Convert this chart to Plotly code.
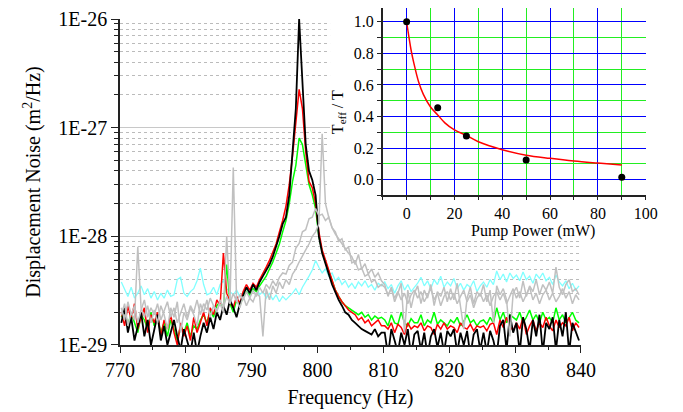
import plotly.graph_objects as go

# ---------------- data (spectra in units of 1E-29 m^2/Hz) ----------------
UNIT = 1e-29
freq = [round(770.2 + 0.5 * k, 1) for k in range(140)]  # Hz

black = [1.6, 2.2, 1.3, 1.8, 1.1, 1.5, 2.0, 1.2, 1.7, 1.0,
         1.4, 1.9, 1.1, 1.5, 1.0, 1.3, 1.7, 1.2, 0.9, 1.4,
         1.1, 0.85, 1.3, 0.85, 1.2, 1.6, 1.3, 1.8, 1.4, 2.0,
         1.7, 2.3, 1.9, 2.6, 2.2, 1.8, 2.4, 2.9, 3.4, 3.0,
         3.6, 3.2, 3.8, 4.3, 4.8, 5.5, 6.5, 8.0, 10.0, 13,
         15, 24, 55, 150, 1000, 250, 70, 40, 33, 24,
         10, 7.0, 5.5, 4.5, 3.6, 3.0, 2.6, 2.3, 2.0, 1.9,
         1.7, 1.6, 1.5, 1.4, 1.35, 1.3, 1.25, 1.4, 1.2, 1.3,
         1.3, 0.8, 1.4, 1.1, 0.85, 1.3, 1.0, 1.4, 0.8, 1.25,
         1.35, 0.9, 1.3, 0.8, 1.2, 1.4, 0.95, 1.3, 0.85, 1.35,
         1.2, 1.4, 0.85, 1.3, 1.0, 1.35, 0.8, 1.25, 1.4, 0.9,
         1.3, 0.85, 1.35, 1.1, 0.8, 1.5, 1.7, 0.9, 1.9, 1.3,
         1.6, 0.85, 1.8, 1.4, 0.9, 1.7, 1.2, 1.9, 0.85, 1.6,
         1.4, 1.8, 0.9, 1.7, 1.2, 2.0, 0.85, 1.6, 1.3, 1.1]

red = [2.0, 1.5, 2.3, 1.7, 2.4, 1.4, 1.8, 2.2, 1.3, 1.9,
       1.6, 2.0, 1.2, 1.7, 1.4, 1.9, 1.3, 1.0, 1.6, 1.2,
       1.5, 1.1, 1.8, 1.3, 1.6, 2.0, 1.5, 2.2, 1.9, 2.6,
       2.3, 7.0, 3.0, 2.5, 2.2, 2.8, 2.4, 3.1, 3.6, 3.2,
       3.7, 3.4, 4.0, 4.5, 5.2, 6.0, 7.2, 8.5, 11, 14,
       19, 30, 55, 120, 225, 150, 60, 32, 28, 20,
       11, 7.5, 6.0, 4.8, 3.9, 3.2, 2.8, 2.5, 2.3, 2.1,
       2.0, 1.9, 1.7, 1.8, 1.6, 1.7, 1.5, 1.6, 1.7, 1.5,
       1.5, 1.4, 1.6, 1.3, 1.55, 1.45, 1.25, 1.6, 1.4, 1.5,
       1.45, 1.6, 1.35, 1.5, 1.45, 1.25, 1.55, 1.4, 1.6, 1.4,
       1.5, 1.45, 1.3, 1.6, 1.45, 1.4, 1.55, 1.35, 1.5, 1.45,
       1.5, 1.35, 1.55, 1.6, 1.25, 1.7, 1.45, 1.8, 1.5, 1.35,
       1.6, 1.4, 1.8, 1.25, 1.5, 1.7, 1.35, 1.6, 1.45, 1.8,
       1.5, 1.35, 1.7, 1.45, 1.6, 1.5, 1.8, 1.35, 1.6, 1.45]

green = [1.8, 2.1, 1.5, 2.0, 1.6, 1.3, 1.9, 1.7, 1.4, 2.0,
         1.5, 1.8, 1.3, 1.6, 1.2, 1.7, 1.4, 1.1, 1.5, 1.3,
         1.6, 1.2, 1.5, 1.4, 1.7, 1.9, 1.6, 2.1, 1.8, 2.3,
         2.5, 2.2, 5.5, 2.4, 2.0, 2.6, 2.3, 2.8, 3.1, 2.9,
         3.3, 3.1, 3.5, 3.9, 4.3, 5.0, 5.8, 7.0, 8.5, 11,
         14, 20, 32, 45, 80, 70, 45, 30, 24, 18,
         10, 7.2, 5.8, 4.7, 3.8, 3.2, 2.8, 2.5, 2.3, 2.2,
         2.1, 2.0, 1.9, 2.0, 1.8, 1.9, 1.7, 1.85, 1.75, 1.8,
         1.7, 1.5, 1.9, 1.6, 1.55, 2.0, 1.6, 1.5, 1.75, 1.6,
         1.6, 1.9, 1.5, 1.7, 1.6, 2.0, 1.55, 1.7, 1.6, 1.5,
         1.7, 1.6, 1.8, 1.5, 1.65, 1.9, 1.6, 1.7, 1.5, 1.65,
         1.7, 1.55, 1.8, 1.6, 2.2, 1.7, 2.0, 1.6, 1.9, 1.8,
         1.7, 2.0, 1.6, 1.8, 2.1, 1.7, 1.9, 1.6, 2.0, 1.7,
         1.8, 1.6, 2.2, 1.7, 1.9, 1.6, 1.8, 2.0, 1.7, 1.6]

cyan = [3.8, 3.2, 2.8, 3.4, 2.7, 3.0, 3.5, 2.9, 3.3, 2.7,
        3.1, 2.6, 3.0, 2.7, 3.2, 2.8, 2.9, 4.0, 4.2, 3.0,
        2.8, 3.1, 3.3, 3.9, 5.1, 3.6, 2.9, 3.0, 3.4, 2.9,
        3.6, 3.9, 3.3, 3.1, 2.9, 3.2, 2.8, 3.0, 3.3, 2.9,
        3.2, 3.4, 2.9, 3.1, 2.7, 3.0, 2.6, 2.9, 2.5, 2.8,
        2.6, 2.8, 3.0, 3.3, 2.9, 3.4, 3.8, 4.3, 4.9, 6.0,
        5.2, 4.6, 5.0, 4.3, 4.6, 3.9, 4.2, 3.6, 3.9, 3.4,
        3.7, 3.3, 3.8, 3.5, 3.9, 3.4, 3.6, 3.2, 3.7, 3.5,
        3.8, 3.3, 3.6, 3.0, 3.5, 3.9, 3.2, 3.6, 3.1, 3.4,
        3.7, 4.2, 3.5, 3.9, 3.3, 4.0, 3.6, 4.3, 3.4, 3.8,
        3.5, 4.1, 3.3, 3.7, 3.2, 3.6, 3.4, 3.9, 3.1, 3.5,
        3.8, 3.4, 4.0, 3.6, 4.8, 4.0, 4.5, 3.8, 4.6, 4.1,
        4.4, 3.9, 4.7, 4.0, 4.3, 3.7, 4.5, 4.1, 4.6, 3.9,
        4.2, 3.6, 4.4, 3.8, 3.5, 3.9, 3.3, 3.7, 3.2, 3.5]

gray_a = [2.2, 1.7, 2.5, 1.9, 2.3, 1.6, 2.1, 2.6, 1.8, 2.2,
          1.9, 2.4, 1.7, 2.1, 2.5, 1.8, 2.2, 1.6, 2.0, 2.4,
          1.8, 2.3, 2.0, 2.6, 1.9, 2.4, 2.1, 2.7, 2.3, 2.0,
          2.6, 2.2, 2.8, 2.4, 3.0, 2.5, 2.9, 2.6, 3.1, 2.7,
          3.2, 2.8, 3.4, 3.0, 3.6, 3.3, 3.9, 3.5, 4.2, 4.6,
          4.5, 5.4, 5.8, 7.8, 8.6, 11, 11.5, 14.5, 15, 18,
          15.5, 16, 14, 15, 12, 11, 9.0, 9.5, 7.5, 8.0,
          5.7, 5.9, 4.9, 5.1, 4.3, 4.5, 3.8, 4.0, 3.4, 3.6,
          3.4, 2.9, 3.3, 2.7, 3.1, 2.6, 3.0, 2.4, 2.9, 3.2,
          2.7, 3.1, 2.5, 2.9, 3.3, 2.6, 3.0, 2.3, 2.8, 3.1,
          2.6, 3.0, 2.4, 2.8, 3.2, 2.5, 2.9, 2.2, 2.7, 3.0,
          2.5, 2.9, 2.3, 2.8, 3.1, 2.6, 3.0, 2.4, 2.8, 3.3,
          2.7, 3.1, 2.5, 2.9, 3.4, 2.6, 3.0, 2.4, 2.9, 3.2,
          2.6, 3.0, 2.5, 2.8, 3.3, 2.7, 3.1, 2.4, 2.9, 2.6]

gray_b = [1.9, 2.4, 1.5, 2.0, 1.7, 8.0, 2.2, 1.8, 2.3, 1.6,
          2.1, 1.6, 2.3, 1.9, 1.4, 2.2, 1.8, 2.5, 1.3, 2.0,
          1.7, 2.2, 1.9, 1.5, 2.4, 2.0, 2.6, 1.8, 2.3, 2.1,
          2.4, 2.0, 10, 2.5, 43, 2.6, 2.2, 2.8, 2.3, 2.7,
          2.5, 3.0, 2.8, 1.2, 3.3, 2.6, 3.5, 3.0, 3.8, 3.3,
          4.0, 3.6, 4.5, 5.0, 5.8, 6.5, 7.5, 8.5, 10, 11,
          13, 88, 20, 15, 12, 10.5, 9.5, 8.5, 7.8, 7.0,
          6.5, 5.5, 6.8, 5.0, 5.6, 4.5, 5.0, 4.2, 4.6, 3.9,
          3.6, 2.8, 3.4, 2.5, 3.0, 3.7, 1.3, 3.2, 2.2, 3.0,
          3.5, 2.4, 3.2, 2.7, 3.6, 2.3, 3.1, 2.8, 3.4, 2.5,
          3.3, 2.6, 3.7, 2.2, 1.4, 2.7, 3.4, 2.4, 3.1, 2.8,
          3.6, 2.5, 3.2, 1.6, 3.5, 2.9, 3.3, 2.6, 1.2, 3.0,
          3.4, 2.7, 3.9, 2.8, 3.5, 3.1, 4.0, 2.9, 3.6, 3.2,
          3.8, 3.0, 5.2, 3.4, 2.9, 3.6, 4.0, 3.1, 3.3, 2.9]

# inset: effective temperature vs pump power
pump_pts = [0, 13, 25, 50, 90]
teff_pts = [1.0, 0.455, 0.276, 0.124, 0.016]
fit_p = [0, 1, 2, 3, 5, 7, 10, 13, 16, 20, 25, 30, 40, 50, 60, 70, 80, 90]
fit_t = [1.0, 0.9, 0.81, 0.74, 0.62, 0.54, 0.46, 0.41, 0.36, 0.315, 0.28,
         0.24, 0.19, 0.155, 0.135, 0.118, 0.105, 0.093]

y_major = [1e-29, 1e-28, 1e-27, 1e-26]
y_major_text = ["1E-29", "1E-28", "1E-27", "1E-26"]
x_ticks = [770, 780, 790, 800, 810, 820, 830, 840]
inset_x_ticks = [0, 20, 40, 60, 80, 100]

FONT = "Liberation Serif, Times New Roman, serif"
AX = "#222222"
GRID_BLUE = "#0000ff"
GRID_GREEN = "#22ee22"

fig = go.Figure()

series = [
    (cyan, "#80ffff", 1.3),
    (green, "#00ff00", 1.5),
    (red, "#ff0000", 1.5),
    (black, "#000000", 1.8),
    (gray_a, "#c0c0c0", 1.5),
    (gray_b, "#c0c0c0", 1.5),
]
for vals, col, w in series:
    fig.add_trace(go.Scatter(
        x=freq, y=[v * UNIT for v in vals], mode="lines",
        line=dict(color=col, width=w), xaxis="x", yaxis="y",
        showlegend=False, hoverinfo="skip"))

fig.add_trace(go.Scatter(
    x=fit_p, y=fit_t, mode="lines", line=dict(color="#ff0000", width=1.5, shape="spline"),
    xaxis="x2", yaxis="y2", showlegend=False))
fig.add_trace(go.Scatter(
    x=pump_pts, y=teff_pts, mode="markers", marker=dict(color="#000000", size=7),
    xaxis="x2", yaxis="y2", showlegend=False))

minor_vals = [m * 10.0 ** e for e in (-29, -28, -27) for m in range(2, 10)]

# page body has an 8 px margin, so the figure is 8 px smaller than the window
fig.update_layout(
    width=675, height=404,
    margin=dict(l=112, r=30, t=0, b=67),
    paper_bgcolor="white", plot_bgcolor="white",
    font=dict(family=FONT, color="#000000"),
    xaxis=dict(
        domain=[0, 0.8649], range=[770, 840], anchor="y", automargin=False,
        tickmode="array", tickvals=x_ticks,
        ticks="outside", ticklen=6, tickwidth=1.2, tickcolor=AX,
        minor=dict(dtick=5, tick0=770, ticks="outside", ticklen=3, tickcolor=AX, showgrid=False),
        showline=True, linecolor=AX, linewidth=1.5, showgrid=False, zeroline=False,
        tickfont=dict(size=20, family=FONT),
        title=dict(text="Frequency (Hz)", font=dict(size=20, family=FONT), standoff=10),
    ),
    yaxis=dict(
        domain=[0, 0.9673], type="log", range=[-29, -26], anchor="x", automargin=False,
        tickmode="array", tickvals=y_major, ticktext=y_major_text,
        ticks="outside", ticklen=7, tickwidth=1.2, tickcolor=AX,
        showgrid=True, gridcolor="#c8c8c8", gridwidth=1,
        minor=dict(tickmode="array", tickvals=minor_vals, ticks="outside", ticklen=4,
                   tickcolor=AX, showgrid=True, gridcolor="#bbbbbb", griddash="dot", gridwidth=1),
        showline=True, linecolor=AX, linewidth=1.5, zeroline=False,
        tickfont=dict(size=20, family=FONT),
        title=dict(text="Displacement Noise (m<sup>2</sup>/Hz)", font=dict(size=20, family=FONT), standoff=12),
    ),
    xaxis2=dict(
        domain=[0.4929, 0.9863], range=[-10, 100], anchor="y2", automargin=False,
        tickmode="array", tickvals=inset_x_ticks,
        ticks="outside", ticklen=3, tickcolor=AX,
        showgrid=True, gridcolor=GRID_BLUE, gridwidth=1,
        minor=dict(tickmode="array", tickvals=[-10, 10, 30, 50, 70, 90], ticks="outside", ticklen=3,
                   tickcolor=AX, showgrid=True, gridcolor=GRID_GREEN, gridwidth=1),
        showline=True, linecolor=AX, linewidth=1.5, zeroline=False,
        tickfont=dict(size=16, family=FONT),
    ),
    yaxis2=dict(
        domain=[0.4437, 1.0], range=[-0.1, 1.087], anchor="x2", automargin=False,
        tickmode="linear", tick0=0, dtick=0.2, tickformat=".1f",
        ticks="outside", ticklen=4, tickcolor=AX,
        showgrid=True, gridcolor=GRID_BLUE, gridwidth=1,
        minor=dict(tickmode="array", tickvals=[-0.1, 0.1, 0.3, 0.5, 0.7, 0.9], ticks="outside", ticklen=4,
                   tickcolor=AX, showgrid=True, gridcolor=GRID_GREEN, gridwidth=1),
        showline=True, linecolor=AX, linewidth=1.5, zeroline=False,
        tickfont=dict(size=16, family=FONT),
    ),
    shapes=[dict(type="rect", xref="x", yref="y", x0=801.9, x1=840, y0=9.5e-29, y1=1e-26,
                 fillcolor="white", line=dict(width=0), layer="between")],
    annotations=[
        dict(text="T<sub>eff</sub> / T", xref="paper", yref="paper", x=0.409, y=0.691,
             xanchor="center", yanchor="middle",
             textangle=-90, showarrow=False, font=dict(size=16, family=FONT)),
        dict(text="Pump Power (mW)", xref="paper", yref="paper", x=0.775, y=0.3377,
             xanchor="center", yanchor="middle",
             showarrow=False, font=dict(size=16, family=FONT)),
    ],
)

fig.write_html("out.html")
